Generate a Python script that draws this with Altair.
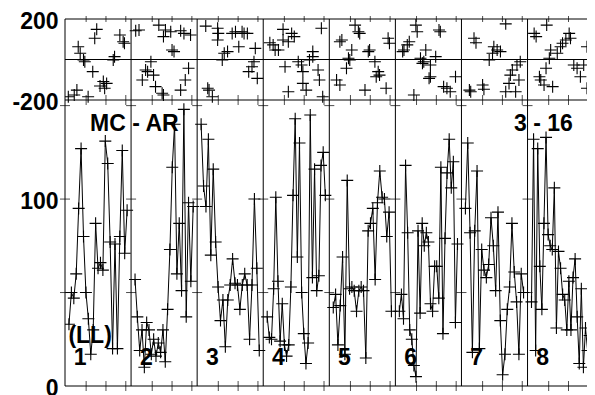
import altair as alt
import pandas as pd

# ---------------- data ----------------
segments = [1, 2, 3, 4, 5, 6, 7, 8]

# lower panel: values per segment (left to right)
seg_values = [
    [33, 50, 47, 60, 95, 127, 80, 50, 36, 17, 30, 87, 63, 66, 62, 131, 119, 77, 20, 76, 20, 80, 126, 71, 94],
    [57, 37, 19, 30, 10, 34, 30, 17, 25, 16, 23, 18, 30, 13, 41, 73, 117, 140, 60, 87, 51, 148, 37, 98, 56, 96],
    [140, 107, 96, 132, 70, 116, 77, 53, 35, 46, 21, 46, 54, 68, 55, 54, 41, 54, 60, 54, 25, 54, 100, 63, 19],
    [37, 26, 25, 52, 101, 56, 24, 44, 22, 16, 22, 53, 102, 143, 69, 130, 50, 28, 12, 23, 145, 58, 116, 51, 59, 118, 125, 102],
    [42, 49, 22, 43, 69, 17, 110, 52, 53, 51, 40, 51, 53, 51, 15, 83, 87, 95, 57, 98, 115, 101, 100, 80, 93, 40],
    [40, 49, 36, 118, 82, 30, 25, 11, 5, 83, 39, 87, 75, 82, 77, 44, 40, 64, 64, 47, 117, 28, 79, 114, 132, 106, 120, 34, 76],
    [95, 130, 82, 18, 83, 115, 20, 73, 62, 58, 65, 90, 75, 51, 93, 35, 6, 17, 41, 53, 87, 61, 45, 17, 60, 50],
    [45, 132, 19, 127, 64, 41, 87, 133, 81, 75, 73, 106, 31, 72, 63, 49, 46, 30, 56, 30, 58, 68, 37, 12, 52, 10, 31, 19, 27],
]

# upper panel: scatter positions (fraction within segment, value)
top_x = [
    [0.48, 0.45, 0.20, 0.23, 0.28, 0.30, 0.83, 0.88, 0.90, 0.75, 0.73, 0.42, 0.58, 0.63, 0.53, 0.60, 0.18, 0.14, 0.35, 0.05],
    [0.12, 0.07, 0.42, 0.52, 0.49, 0.60, 0.75, 0.80, 0.90, 0.62, 0.65, 0.30, 0.22, 0.25, 0.17, 0.34, 0.37, 0.47, 0.49, 0.75, 0.82, 0.87],
    [0.13, 0.31, 0.32, 0.31, 0.53, 0.58, 0.68, 0.71, 0.76, 0.63, 0.88, 0.46, 0.41, 0.38, 0.86, 0.83, 0.78, 0.91, 0.16, 0.18, 0.23],
    [0.30, 0.43, 0.47, 0.88, 0.10, 0.15, 0.18, 0.23, 0.30, 0.38, 0.75, 0.75, 0.70, 0.53, 0.58, 0.60, 0.33, 0.83, 0.85, 0.60, 0.65, 0.38, 0.90],
    [0.39, 0.44, 0.46, 0.19, 0.16, 0.34, 0.61, 0.59, 0.89, 0.91, 0.29, 0.31, 0.26, 0.69, 0.74, 0.76, 0.71, 0.11, 0.16, 0.54, 0.86],
    [0.31, 0.33, 0.66, 0.68, 0.21, 0.18, 0.11, 0.13, 0.46, 0.61, 0.38, 0.43, 0.41, 0.53, 0.53, 0.51, 0.73, 0.78, 0.83, 0.91, 0.28],
    [0.67, 0.19, 0.22, 0.49, 0.54, 0.59, 0.47, 0.42, 0.89, 0.84, 0.77, 0.74, 0.87, 0.32, 0.34, 0.12, 0.14, 0.67, 0.82, 0.72],
    [0.29, 0.10, 0.13, 0.63, 0.58, 0.65, 0.53, 0.50, 0.45, 0.90, 0.35, 0.33, 0.28, 0.70, 0.75, 0.80, 0.85, 0.18, 0.20, 0.25, 0.38, 0.90],
]
top_y = [
    [149, 105, 63, 31, -2, -11, 121, 88, 80, 14, -2, -60, -109, -118, -131, -142, -151, -175, -184, -184],
    [146, 142, 170, 146, 113, 137, 142, 129, 121, 47, 39, -11, -52, -60, -101, -77, -134, -167, -175, -151, -101, -43],
    [165, 154, 129, 96, 129, 137, 137, 129, 129, 63, 55, 39, 31, -2, -11, -36, -60, -93, -142, -151, -184],
    [149, 129, 113, 154, 83, 72, 47, 47, 96, 88, 39, 14, -2, -11, -27, -60, -36, -52, -101, -118, -151, -159, -184],
    [170, 137, 129, 96, 88, 47, 47, 39, 105, 80, 6, -2, -43, -11, -60, -77, -85, -101, -126, -151, -142],
    [170, 137, 146, 137, 88, 72, 39, 47, 47, 14, 6, -11, -19, -27, -85, -93, -134, -142, -159, -85, -175],
    [176, 105, 83, 63, 47, 39, 31, -2, -11, -27, -52, -77, -101, -126, -147, -151, -159, -159, -159, -118],
    [170, 129, 113, 129, 96, 105, 80, 63, 31, 63, 47, 6, -43, -27, -43, -85, -27, -85, -101, -126, -134, -142],
]

tick_fracs = [0.32, 0.62, 0.92]
top_domain = [-200, 200]
bottom_domain = [0, 153]
top_axis_values = [-200, 200]
bottom_axis_values = [0, 100]
boundary_tick_values = [50, 100, 150]

annotations = ["MC - AR", "3 - 16", "(LL)"]
annotation_x = [1.05, 7.24, 0.38]
annotation_y = [140, 140, 27]
number_y = 15

# ---------------- tables ----------------
rows = []
for s, vals in zip(segments, seg_values):
    n = len(vals)
    for k, v in enumerate(vals):
        rows.append({"seg": s, "k": k, "x": (s - 1) + 0.06 + 0.88 * k / (n - 1), "v": v})
line_df = pd.DataFrame(rows)

top_rows = []
for s, xs, ys in zip(segments, top_x, top_y):
    for xf, yv in zip(xs, ys):
        top_rows.append({"x": (s - 1) + xf, "y": yv})
top_df = pd.DataFrame(top_rows)

ticks_df = pd.DataFrame({"x": [(s - 1) + f for s in segments for f in tick_fracs]})
ticks_top_df = ticks_df.assign(y=top_domain[0])
ticks_ceiling_df = ticks_df.assign(y=top_domain[1])
ticks_floor_df = ticks_df.assign(v=bottom_domain[0])
sep_df = pd.DataFrame({"x": [0] + segments[:-1]})
btick_df = pd.DataFrame([{"x": b, "v": y} for b in range(0, 9) for y in boundary_tick_values])
ann_df = pd.DataFrame({"x": annotation_x, "v": annotation_y, "label": annotations})
num_df = pd.DataFrame({"x": [(s - 1) + 0.23 for s in segments], "v": [number_y] * 8,
                       "label": [str(s) for s in segments]})
hlines_top_df = pd.DataFrame({"y": [top_domain[1], 0, top_domain[0]]})
hline_bot_df = pd.DataFrame({"v": [bottom_domain[0]]})

# ---------------- layout ----------------
FONT = "Liberation Sans"
W = 522
H = 367
H_TOP = 81
CROSS = "M-1,0L1,0M0,-1L0,1"

xenc = alt.X("x:Q", scale=alt.Scale(domain=[0, 7.9], nice=False, zero=False), axis=None)
top_scale = alt.Scale(domain=top_domain, range=[H_TOP, 0], nice=False, zero=False)
bot_scale = alt.Scale(domain=bottom_domain, range=[H, H_TOP], nice=False, zero=False)


def yaxis(values):
    return alt.Axis(values=values, orient="left", ticks=False, domain=False, grid=False, title=None,
                    labelExpr="'' + datum.value", labelFont=FONT, labelFontSize=23,
                    labelFontWeight="bold", labelColor="black", labelPadding=7, labelOffset=2)


ytop_axis = alt.Y("y:Q", scale=top_scale, axis=yaxis(top_axis_values))
ytop = alt.Y("y:Q", scale=top_scale, axis=None)
ybot_axis = alt.Y("v:Q", scale=bot_scale, axis=yaxis(bottom_axis_values))
ybot = alt.Y("v:Q", scale=bot_scale, axis=None)

# upper panel
top_pts = alt.Chart(top_df).mark_point(
    shape=CROSS, size=144, filled=False, color="black", strokeWidth=1.1, opacity=1, clip=True
).encode(x=xenc, y=ytop_axis)
top_lines = alt.Chart(hlines_top_df).mark_rule(color="black", strokeWidth=1).encode(y=ytop)
top_ticks_b = alt.Chart(ticks_top_df).mark_tick(orient="vertical", size=10, thickness=1, color="black").encode(
    x=xenc, y=ytop)
top_ticks_t = alt.Chart(ticks_ceiling_df).mark_tick(orient="vertical", size=6, thickness=1, color="black").encode(
    x=xenc, y=ytop)

# frame & separators
seps = alt.Chart(sep_df).mark_rule(color="black", strokeWidth=1).encode(x=xenc)

# lower panel
line = alt.Chart(line_df).mark_line(color="black", strokeWidth=1, clip=True).encode(
    x=xenc, y=ybot_axis, detail="seg:N", order="k:Q")
pts = alt.Chart(line_df).mark_point(
    shape=CROSS, size=144, filled=False, color="black", strokeWidth=1.1, opacity=1, clip=True
).encode(x=xenc, y=ybot)
bot_line = alt.Chart(hline_bot_df).mark_rule(color="black", strokeWidth=1).encode(y=ybot)
bot_ticks = alt.Chart(ticks_floor_df).mark_tick(orient="vertical", size=10, thickness=1, color="black").encode(
    x=xenc, y=ybot)
btick = alt.Chart(btick_df).mark_tick(orient="horizontal", size=10, thickness=1, color="black").encode(
    x=xenc, y=ybot)
ann = alt.Chart(ann_df).mark_text(
    font=FONT, fontSize=23, fontWeight="bold", color="black", align="center", baseline="middle"
).encode(x=xenc, y=ybot, text="label:N")
nums = alt.Chart(num_df).mark_text(
    font=FONT, fontSize=23, fontWeight="bold", color="black", align="center", baseline="middle"
).encode(x=xenc, y=ybot, text="label:N")

chart = alt.layer(
    top_pts, top_lines, top_ticks_b, top_ticks_t, seps,
    line, pts, bot_line, bot_ticks, btick, ann, nums
).resolve_scale(y="independent").properties(
    width=W, height=H,
    autosize=alt.AutoSizeParams(type="none"),
    padding={"left": 57, "top": 11, "right": 0, "bottom": 9},
    background="white",
).configure_view(stroke=None)

chart.save("out.html", embed_options={"renderer": "svg", "actions": False})
